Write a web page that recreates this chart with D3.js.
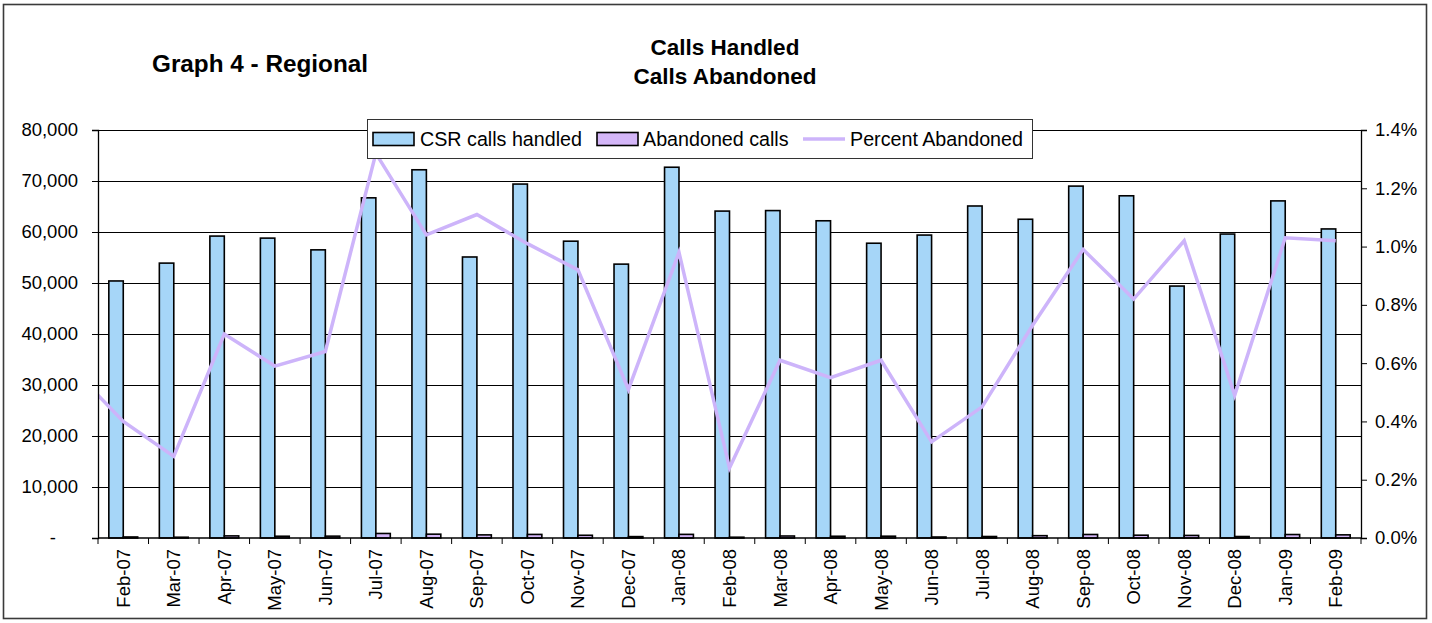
<!DOCTYPE html>
<html>
<head>
<meta charset="utf-8">
<script src="https://cdnjs.cloudflare.com/ajax/libs/d3/7.8.5/d3.min.js"></script>
<style>
  body { margin: 0; background: #fff; }
  svg { font-family: "Liberation Sans", Arial, sans-serif; }
</style>
</head>
<body>
<div id="chart"></div>
<script>
// months on the category axis
var months = ['Feb-07', 'Mar-07', 'Apr-07', 'May-07', 'Jun-07', 'Jul-07', 'Aug-07',
  'Sep-07', 'Oct-07', 'Nov-07', 'Dec-07', 'Jan-08', 'Feb-08', 'Mar-08', 'Apr-08',
  'May-08', 'Jun-08', 'Jul-08', 'Aug-08', 'Sep-08', 'Oct-08', 'Nov-08', 'Dec-08',
  'Jan-09', 'Feb-09'];

// CSR calls handled (left axis)
var handled = [50400, 53900, 59200, 58800, 56500, 66700, 72200, 55100, 69400, 58200,
  53700, 72700, 64100, 64200, 62200, 57800, 59400, 65100, 62500, 69000, 67100, 49400,
  59600, 66100, 60600];

// Abandoned calls (left axis)
var abandoned = [202, 151, 414, 347, 362, 887, 751, 612, 701, 535, 274, 712, 154, 392,
  342, 353, 196, 293, 456, 690, 550, 504, 292, 681, 618];

// Percent abandoned (right axis, in %)
var pctAbandoned = [0.40, 0.28, 0.70, 0.59, 0.64, 1.32, 1.04, 1.11, 1.01, 0.92, 0.51,
  0.98, 0.24, 0.61, 0.55, 0.61, 0.33, 0.45, 0.73, 0.99, 0.82, 1.02, 0.49, 1.03, 1.02];
// the month before the window (its segment is clipped at the plot edge)
var pctPrevMonth = 0.58;

var leftTicks = [0, 10000, 20000, 30000, 40000, 50000, 60000, 70000, 80000];
var rightTicks = [0, 0.2, 0.4, 0.6, 0.8, 1.0, 1.2, 1.4];

var W = 1432, H = 623;
var m = {left: 98, right: 1361, top: 130, bottom: 538};

var svg = d3.select('#chart').append('svg')
    .attr('width', W)
    .attr('height', H);

// outer frame
svg.append('rect')
    .attr('x', 3.5).attr('y', 4.5)
    .attr('width', 1423).attr('height', 614)
    .attr('fill', 'none')
    .attr('stroke', '#3a3a3a')
    .attr('stroke-width', 1.6);

var x = d3.scaleBand().domain(months).range([m.left, m.right]).paddingInner(0).paddingOuter(0);
var xs = d3.scaleBand().domain(['handled', 'abandoned'])
    .range([0, x.bandwidth()]).paddingInner(0).paddingOuter(0.75);
var yL = d3.scaleLinear().domain([0, 80000]).range([m.bottom, m.top]);
var yR = d3.scaleLinear().domain([0, 1.4]).range([m.bottom, m.top]);

// gridlines
svg.append('g').selectAll('line')
    .data(leftTicks.slice(1)).enter()
    .append('line')
      .attr('x1', m.left).attr('x2', m.right)
      .attr('y1', function(d) { return yL(d) + 0.5; })
      .attr('y2', function(d) { return yL(d) + 0.5; })
      .attr('stroke', '#000')
      .attr('stroke-width', 1);

// bars
var groups = svg.append('g').selectAll('g')
    .data(months).enter()
    .append('g')
      .attr('transform', function(d) { return 'translate(' + x(d) + ',0)'; });

groups.append('rect')
    .attr('x', function() { return xs('handled'); })
    .attr('y', function(d, i) { return yL(handled[i]); })
    .attr('width', xs.bandwidth())
    .attr('height', function(d, i) { return m.bottom - yL(handled[i]); })
    .attr('fill', '#a6d6f8')
    .attr('stroke', '#000')
    .attr('stroke-width', 1.6);

groups.append('rect')
    .attr('x', function() { return xs('abandoned'); })
    .attr('y', function(d, i) { return yL(abandoned[i]); })
    .attr('width', xs.bandwidth())
    .attr('height', function(d, i) { return m.bottom - yL(abandoned[i]); })
    .attr('fill', '#d4b6f8')
    .attr('stroke', '#000')
    .attr('stroke-width', 1.6);

// percent line, clipped to the plot area
svg.append('clipPath').attr('id', 'plotclip')
  .append('rect')
    .attr('x', m.left).attr('y', m.top - 20)
    .attr('width', m.right - m.left).attr('height', m.bottom - m.top + 20);

var pts = [[x(months[0]) - x.step() + x.bandwidth() / 2, yR(pctPrevMonth)]];
months.forEach(function(d, i) {
  pts.push([x(d) + x.bandwidth() / 2, yR(pctAbandoned[i])]);
});

svg.append('path')
    .attr('d', d3.line()(pts))
    .attr('clip-path', 'url(#plotclip)')
    .attr('fill', 'none')
    .attr('stroke', '#cdb4fa')
    .attr('stroke-width', 3.5)
    .attr('stroke-linejoin', 'miter');

// left axis
var axL = svg.append('g')
    .attr('transform', 'translate(' + m.left + ',0)')
    .call(d3.axisLeft(yL).tickValues(leftTicks).tickSize(6).tickPadding(14)
      .tickFormat(function(d) { return d === 0 ? '-' : d3.format(',')(d); }));
axL.selectAll('text')
    .attr('dx', function(d) { return d === 0 ? -22 : 0; });

// right axis
var axR = svg.append('g')
    .attr('transform', 'translate(' + m.right + ',0)')
    .call(d3.axisRight(yR).tickValues(rightTicks).tickSize(6).tickPadding(8)
      .tickFormat(function(d) { return d.toFixed(1) + '%'; }));

// bottom axis: ticks at category boundaries
var axB = svg.append('g')
    .attr('transform', 'translate(0,' + m.bottom + ')');
axB.append('line')
    .attr('x1', m.left).attr('x2', m.right)
    .attr('stroke', '#000').attr('stroke-width', 1.6);
axB.selectAll('line.tick')
    .data(months.concat(['end'])).enter()
    .append('line')
      .attr('class', 'tick')
      .attr('x1', function(d, i) { return i < months.length ? x(d) : m.right; })
      .attr('x2', function(d, i) { return i < months.length ? x(d) : m.right; })
      .attr('y1', 0).attr('y2', 6)
      .attr('stroke', '#000');
axB.selectAll('text')
    .data(months).enter()
    .append('text')
      .attr('transform', function(d) {
        return 'translate(' + (x(d) + x.bandwidth() / 2) + ',11) rotate(-90)';
      })
      .attr('text-anchor', 'end')
      .attr('dy', '0.35em')
      .text(function(d) { return d; });

[axL, axR].forEach(function(a) {
  a.select('.domain').attr('stroke', '#000').attr('stroke-width', 1.3);
  a.selectAll('.tick line').attr('stroke', '#000');
});
svg.selectAll('g text')
    .attr('font-size', '18.5px')
    .attr('font-family', '"Liberation Sans", Arial, sans-serif')
    .attr('fill', '#000');

// titles
svg.append('text')
    .attr('x', 152).attr('y', 72)
    .attr('font-size', '24.3px').attr('font-weight', 'bold')
    .text('Graph 4 - Regional');
svg.append('text')
    .attr('x', 725).attr('y', 55)
    .attr('text-anchor', 'middle')
    .attr('font-size', '22.5px').attr('font-weight', 'bold')
    .text('Calls Handled');
svg.append('text')
    .attr('x', 725).attr('y', 84)
    .attr('text-anchor', 'middle')
    .attr('font-size', '22.5px').attr('font-weight', 'bold')
    .text('Calls Abandoned');

// legend
var legend = svg.append('g');
legend.append('rect')
    .attr('x', 367.5).attr('y', 119.5)
    .attr('width', 665).attr('height', 39)
    .attr('fill', '#fff')
    .attr('stroke', '#333')
    .attr('stroke-width', 1);

var legendItems = [
  {label: 'CSR calls handled', kind: 'bar', color: '#a6d6f8', sx: 373, tx: 420},
  {label: 'Abandoned calls', kind: 'bar', color: '#d4b6f8', sx: 597, tx: 643},
  {label: 'Percent Abandoned', kind: 'line', color: '#cdb4fa', sx: 803, tx: 850}
];
legendItems.forEach(function(d) {
  if (d.kind === 'bar') {
    legend.append('rect')
        .attr('x', d.sx).attr('y', 132.5)
        .attr('width', 41).attr('height', 13)
        .attr('fill', d.color)
        .attr('stroke', '#000').attr('stroke-width', 1.6);
  } else {
    legend.append('line')
        .attr('x1', d.sx).attr('x2', d.sx + 42)
        .attr('y1', 139).attr('y2', 139)
        .attr('stroke', d.color).attr('stroke-width', 3.5);
  }
  legend.append('text')
      .attr('x', d.tx).attr('y', 146)
      .attr('font-size', '19.7px')
      .text(d.label);
});
</script>
</body>
</html>
